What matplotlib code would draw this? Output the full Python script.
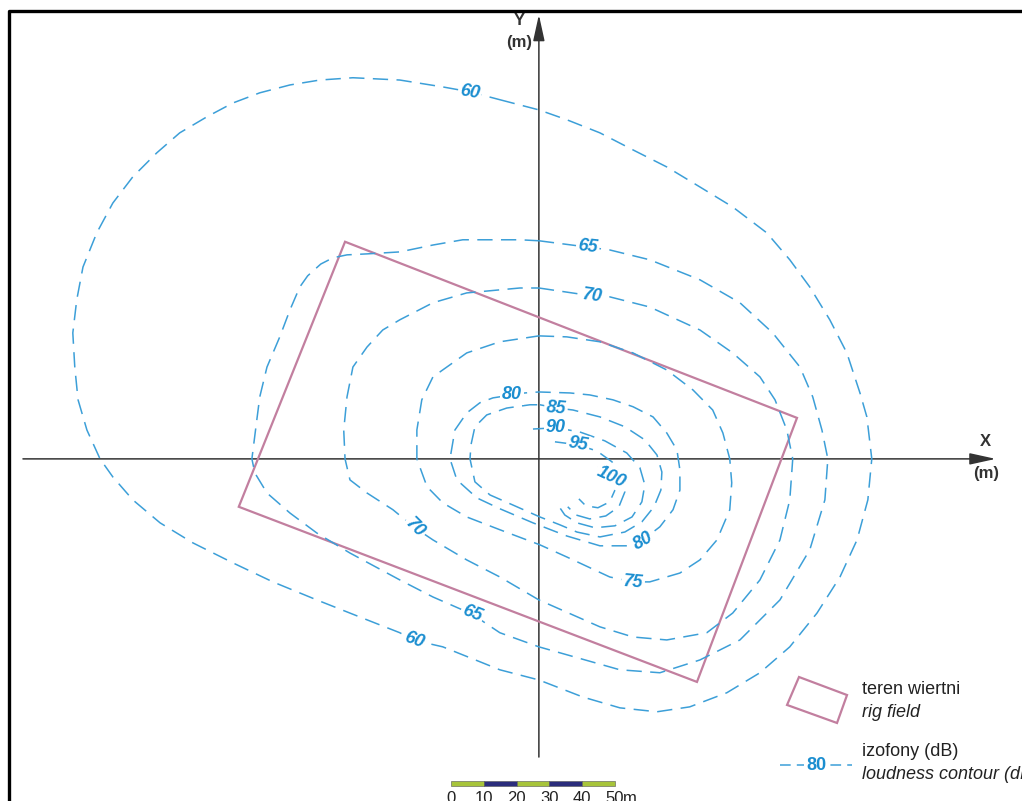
import matplotlib.pyplot as plt
import matplotlib.patches as mpatches
import matplotlib.lines as mlines

# fonts
plt.rcParams['font.family'] = ['Liberation Sans Narrow', 'Liberation Sans', 'DejaVu Sans']

# ---- data: isophone contours (x, y in metres, origin = rig centre) ----
c60_x = [-11.9, 0, 8.5, 18.6, 28.7, 39.0, 49.1, 59.1, 69.5, 76.5, 82.6, 88.7, 93.9, 97.9, 100.0, 101.5,
         100.3, 97.0, 91.8, 84.8, 76.5, 67.4, 57.3, 46.0, 36.0, 24.7, 13.4, 0, -11.9, -17.1, -29.3,
         -38.4, -42.4, -54.6, -67.7, -81.1, -93.3, -105.5, -115.5, -123.8, -129.9, -133.8, -137.8,
         -140.5, -141.5, -142.1, -140.9, -139.0, -134.8, -129.9, -123.8, -116.5, -109.5, -101.2, -93.3,
         -85.1, -75.9, -66.8, -56.7, -42.4, -29.3, -21.0, -11.9]
c60_y = [109.5, 106.4, 103.4, 99.4, 94.2, 89.0, 82.9, 76.8, 68.9, 60.7, 52.4, 42.4, 32.3, 20.1, 12.8, 0,
         -12.5, -24.7, -36.0, -47.0, -57.3, -65.2, -71.3, -75.6, -77.1, -75.9, -72.6, -67.4, -64.3,
         -62.2, -57.3, -55.2, -53.0, -48.2, -43.0, -37.5, -31.7, -25.6, -19.5, -12.5, -5.5, 0, 8.8,
         18.0, 28.0, 38.4, 48.5, 58.5, 68.9, 78.0, 86.0, 93.3, 99.4, 104.3, 108.5, 111.6, 114.0,
         115.5, 116.2, 115.5, 113.4, 111.9, 109.5]

c65_x = [0, 14.6, 21.6, 33.8, 49.1, 61.3, 71.3, 79.6, 83.5, 86.3, 88.1, 87.2, 82.6, 73.5, 61.3, 49.1,
         36.9, 24.7, 0, -11.9, -20.4, -32.3, -42.4, -57.6, -67.7, -75.9, -82.9, -86.6, -87.5, -86.0,
         -85.1, -82.9, -79.0, -75.9, -72.9, -70.5, -66.5, -62.8, -58.5, -52.4, -42.4, -32.3, -23.2,
         -5.8, 0]
c65_y = [66.5, 64.6, 63.7, 60.7, 54.6, 47.6, 38.4, 28.0, 18.9, 8.8, 0, -12.5, -27.7, -43.0, -55.2, -61.3,
         -65.2, -64.3, -57.3, -53.0, -47.3, -42.1, -36.9, -28.7, -22.6, -16.5, -10.4, -4.3, 0, 11.9,
         18.9, 28.0, 37.2, 45.4, 52.4, 55.8, 59.4, 61.3, 62.2, 62.5, 63.1, 65.2, 66.8, 66.8, 66.5]

c70_x = [0, 16.2, 21.6, 33.8, 49.1, 59.1, 67.4, 72.0, 75.6, 77.4, 76.5, 73.5, 67.4, 59.1, 51.2, 39.0,
         28.7, 18.6, 0, -11.9, -22.0, -32.3, -37.8, -44.5, -52.4, -57.6, -59.1, -59.5, -58.5, -56.7,
         -52.4, -47.6, -42.4, -32.3, -22.0, -5.8, 0]
c70_y = [52.1, 49.7, 49.4, 46.3, 39.3, 32.3, 25.0, 18.0, 8.8, 0, -12.5, -24.7, -36.9, -47.0, -53.0, -55.2,
         -54.3, -51.2, -43.0, -36.0, -30.8, -24.7, -21.0, -15.5, -10.4, -6.4, 0, 8.8, 18.9, 28.0,
         34.1, 39.3, 42.4, 47.6, 50.6, 52.1, 52.1]

c75_x = [0, 8.5, 18.6, 28.7, 39.0, 47.0, 53.0, 56.1, 58.2, 58.8, 58.2, 54.3, 49.1, 43.0, 33.8, 28.7,
         21.6, 8.5, 0.3, -11.9, -22.0, -29.3, -34.1, -37.2, -37.2, -35.7, -32.3, -22.0, -11.9, 0]
c75_y = [37.5, 37.2, 35.7, 32.3, 27.1, 21.0, 14.9, 7.9, 0, -7.3, -15.5, -24.7, -30.8, -34.8, -37.5, -37.5,
         -36.0, -29.9, -26.2, -21.6, -17.7, -13.4, -8.5, 0, 8.8, 18.0, 25.0, 32.3, 35.7, 37.5]

c80_x = [-8.2, -4.3, 0, 9.5, 15.5, 22.6, 28.7, 34.8, 39.0, 42.1, 43.0, 43.0, 40.9, 36.9, 31.7, 27.7,
         18.6, 8.5, -1.8, -11.9, -18.9, -25.0, -27.1, -25.6, -22.0, -18.0, -14.0, -8.2]
c80_y = [19.5, 20.1, 20.4, 20.1, 19.5, 18.0, 15.9, 12.8, 7.9, 2.7, -3.4, -9.5, -15.5, -20.7, -24.7, -26.5,
         -26.5, -23.5, -19.5, -15.2, -11.9, -6.4, 0, 8.8, 14.0, 17.1, 18.6, 19.5]

c85_x = [0.3, 5.5, 10.4, 18.6, 26.2, 32.3, 36.0, 37.5, 37.2, 35.1, 31.4, 26.2, 18.6, 11.6, 6.4, 0.3,
         -6.7, -14.9, -19.5, -21.0, -20.7, -19.5, -15.9, -9.8, -2.7, 0.3]
c85_y = [16.5, 15.5, 14.9, 12.8, 9.8, 5.8, 1.2, -4.0, -9.5, -14.6, -19.2, -22.3, -23.8, -22.3, -20.1,
         -17.7, -14.6, -11.0, -7.0, 0, 4.3, 9.8, 13.4, 15.5, 16.5, 16.5]

c90_x = [-1.8, 5.2, 12.5, 20.1, 26.8, 30.8, 32.3, 31.4, 28.4, 23.2, 17.1, 11.6, 7.9, 6.4]
c90_y = [9.1, 9.5, 8.2, 5.5, 1.8, -2.7, -7.9, -13.1, -17.7, -20.4, -21.0, -19.5, -17.1, -14.9]

c95_x = [4.9, 11.9, 17.7, 22.3, 25.3, 26.2, 24.4, 20.4, 15.5, 11.3, 8.8]
c95_y = [5.2, 4.3, 2.4, -0.9, -5.2, -10.1, -14.6, -17.4, -18.3, -17.1, -14.6]

c100_x = [18.0, 22.0, 23.2, 21.6, 18.0, 14.3, 12.2]
c100_y = [-2.4, -5.2, -9.5, -13.1, -14.9, -14.3, -12.2]

# contour labels: level, position (m), rotation
lab_text = ['60', '60', '65', '65', '70', '70', '75', '80', '80', '85', '90', '95', '100']
lab_x = [-21.0, -38.1, 14.9, -20.4, 16.2, -37.8, 28.7, -8.2, 31.7, 5.2, 5.2, 11.9, 22.0]
lab_y = [111.9, -55.2, 64.6, -47.3, 49.7, -21.0, -37.5, 19.5, -25.0, 15.5, 9.5, 4.3, -5.5]
lab_rot = [-10, -20, -7, -22, -8, -45, -5, 0, 30, -5, 0, -10, -25]

# rig field corners (m)
rig_x = [-59.1, 78.7, 48.2, -91.5]
rig_y = [66.2, 12.5, -68.0, -14.6]

# scale bar (m)
bar_ticks = [0, 10, 20, 30, 40, 50]

blue = '#3c9fd8'
blue_txt = '#1b8ed0'
pink = '#c27f9f'

fig = plt.figure(figsize=(10.22, 8.01), dpi=100)
ax = fig.add_axes([0, 0, 1, 1])
ax.set_xlim(-164.3, 147.3)
ax.set_ylim(-104.3, 139.9)
ax.axis('off')

# axes with arrows
arr = dict(arrowstyle='-|>,head_length=1.0,head_width=0.22', color='#333333',
           lw=1.1, mutation_scale=16, shrinkA=0, shrinkB=0)
ax.annotate('', xy=(139.3, 0), xytext=(-157.3, 0), arrowprops=arr)
ax.annotate('', xy=(0, 135.4), xytext=(0, -90.9), arrowprops=arr)
ax.text(136.3, 5.2, 'X', ha='center', va='center', fontsize=12, fontweight='bold', color='#333333')
ax.text(136.3, -4.6, '(m)', ha='center', va='center', fontsize=12, fontweight='bold', color='#333333')
ax.text(-6.1, 133.5, 'Y', ha='center', va='center', fontsize=12, fontweight='bold', color='#333333')
ax.text(-6.1, 126.8, '(m)', ha='center', va='center', fontsize=12, fontweight='bold', color='#333333')

# rig field
ax.add_patch(mpatches.Polygon(list(zip(rig_x, rig_y)), closed=True, fill=False,
                              edgecolor=pink, lw=1.6, zorder=3))

# contours
dash = (0, (10, 5.5))
for cx, cy in [(c60_x, c60_y), (c65_x, c65_y), (c70_x, c70_y), (c75_x, c75_y), (c80_x, c80_y),
               (c85_x, c85_y), (c90_x, c90_y), (c95_x, c95_y), (c100_x, c100_y)]:
    ax.plot(cx, cy, color=blue, lw=1.1, linestyle=dash, zorder=4, solid_joinstyle='round',
            dash_joinstyle='round')

for t, x, y, r in zip(lab_text, lab_x, lab_y, lab_rot):
    ax.text(x, y, t, ha='center', va='center', rotation=r, fontsize=13, fontweight='bold',
            fontstyle='italic', color=blue_txt, zorder=6,
            bbox=dict(boxstyle='square,pad=0.1', fc='white', ec='none'))

# scale bar
bar_y = -99.1
for i in range(5):
    c = '#a7c43a' if i % 2 == 0 else '#2b2d7c'
    ax.add_patch(mpatches.Rectangle((-26.8 + bar_ticks[i], bar_y - 0.75), 10, 1.5,
                                    facecolor=c, edgecolor='#555555', lw=0.4))
for v in bar_ticks:
    ax.text(-26.8 + v, bar_y - 2.0, str(v), ha='center', va='top', fontsize=12, color='#222222')
ax.text(-26.8 + 52.4, bar_y - 2.0, 'm', ha='left', va='top', fontsize=12, color='#222222')

# legend
ax.add_patch(mpatches.Polygon([(0.7818, 0.1548), (0.8288, 0.1323), (0.8190, 0.0974), (0.7701, 0.1199)],
                              closed=True, fill=False, edgecolor=pink, lw=1.6, transform=ax.transAxes))
ax.text(0.8434, 0.1386, 'teren wiertni', transform=ax.transAxes, ha='left', va='center', fontsize=13,
        color='#222222')
ax.text(0.8434, 0.1111, 'rig field', transform=ax.transAxes, ha='left', va='center', fontsize=13,
        fontstyle='italic', color='#222222')
ax.plot([0.7632, 0.8337], [0.0449, 0.0449], transform=ax.transAxes, color=blue, lw=1.1,
        linestyle=(0, (7, 4)))
ax.text(0.7985, 0.0449, '80', transform=ax.transAxes, ha='center', va='center', fontsize=13,
        fontweight='bold', color=blue_txt, bbox=dict(boxstyle='square,pad=0.1', fc='white', ec='none'))
ax.text(0.8434, 0.0612, 'izofony (dB)', transform=ax.transAxes, ha='left', va='center', fontsize=13,
        color='#222222')
ax.text(0.8434, 0.0325, 'loudness contour (dB)', transform=ax.transAxes, ha='left', va='center',
        fontsize=13, fontstyle='italic', color='#222222')

# frame
fig.add_artist(mlines.Line2D([0.0088, 0.0088, 1.0], [0.0, 0.9863, 0.9863], color='black', lw=2.4))

fig.savefig('out.png', dpi=100)
